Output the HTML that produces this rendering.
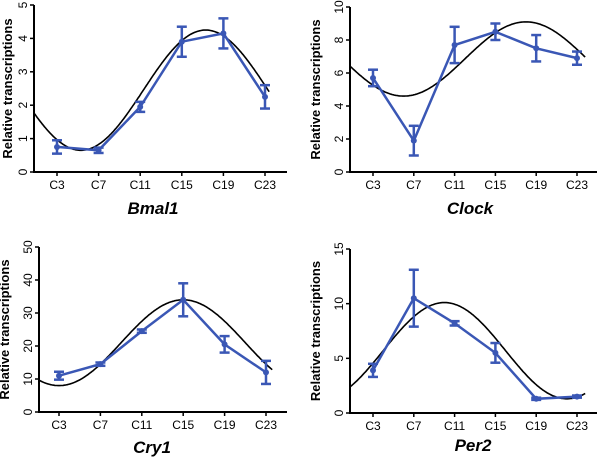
<!DOCTYPE html>
<html><head><meta charset="utf-8">
<style>
html,body{margin:0;padding:0;background:#fff;}
svg{display:block;font-family:"Liberation Sans",Arial,sans-serif;}
</style></head>
<body>
<svg id="fig" width="600" height="457" viewBox="0 0 600 457" xmlns="http://www.w3.org/2000/svg"></svg>
<script>
const categories = ["C3","C7","C11","C15","C19","C23"];
const hours = [3,7,11,15,19,23];
const bmal1Values = [0.75,0.65,1.95,3.9,4.15,2.25];
const bmal1Errors = [0.2,0.08,0.15,0.45,0.45,0.35];
const clockValues = [5.7,1.9,7.7,8.5,7.5,6.9];
const clockErrors = [0.5,0.9,1.1,0.5,0.8,0.4];
const cry1Values = [11,14.5,24.5,34,20.5,12];
const cry1Errors = [1.2,0.5,0.5,5,2.5,3.5];
const per2Values = [3.9,10.5,8.2,5.5,1.3,1.5];
const per2Errors = [0.6,2.6,0.2,0.9,0.1,0.1];
// cosinor fit parameters: mesor, amplitude, acrophase (h)
const bmal1Fit = [2.45,1.8,17.3];
const clockFit = [6.85,2.25,18];
const cry1Fit = [21,13,15];
const per2Fit = [5.7,4.4,10];
const bmal1Ticks = [0,1,2,3,4,5];
const clockTicks = [0,2,4,6,8,10];
const cry1Ticks = [0,10,20,30,40,50];
const per2Ticks = [0,5,10,15];

const NS="http://www.w3.org/2000/svg";
const svg=document.getElementById('fig');
function mk(tag,attrs,parent){const e=document.createElementNS(NS,tag);for(const k in attrs)e.setAttribute(k,attrs[k]);(parent||svg).appendChild(e);return e;}
const BLUE="#3a57b5";

function panel(cfg){
  const g=mk('g',{});
  
  
  const {ax,top,bot,right,c3,sp,ymax}=cfg;
  const X=h=>c3+(h-3)*sp/4;
  const Y=v=>bot-(v/ymax)*(bot-top);
  const yAxis=mk('line',{x1:ax,y1:top,x2:ax,y2:bot,stroke:'#000','stroke-width':2},g);
  
  
  const xAxis=mk('line',{x1:ax-1,y1:bot,x2:right,y2:bot,stroke:'#000','stroke-width':2},g);
  
  
  cfg.ticks.forEach(t=>{
    const y=Y(t);
    mk('line',{x1:ax-4,y1:y,x2:ax,y2:y,stroke:'#000','stroke-width':1.5},g);
    const tx=mk('text',{x:0,y:0,transform:`translate(${ax-7},${y}) rotate(-90)`,'text-anchor':'middle','font-size':12,fill:'#000'},g);
    tx.textContent=t;
    
    
  });
  categories.forEach((c,i)=>{
    const x=X(hours[i]);
    mk('line',{x1:x,y1:bot,x2:x,y2:bot+4,stroke:'#000','stroke-width':1.5},g);
    const tx=mk('text',{x:x,y:bot+17,'text-anchor':'middle','font-size':12,fill:'#000'},g);
    tx.textContent=c;
    
    
  });
  const yt=mk('text',{x:0,y:0,transform:`translate(${cfg.ytx},${(top+bot)/2}) rotate(-90)`,'text-anchor':'middle','font-size':13,'font-weight':'bold',fill:'#000'},g);
  yt.textContent='Relative transcriptions';
  
  
  const tt=mk('text',{x:cfg.tx,y:cfg.ty,'text-anchor':'middle','font-size':17,'font-weight':'bold','font-style':'italic',fill:'#000'},g);
  tt.textContent=cfg.title;
  
  
  const [m,a,p]=cfg.fit;
  let d='';
  for(let h=cfg.h0;h<=cfg.h1+1e-6;h+=0.1){
    const v=m+a*Math.cos(2*Math.PI*(h-p)/24);
    d+=(d?'L':'M')+X(h).toFixed(1)+','+Y(v).toFixed(1);
  }
  const cv=mk('path',{d:d,fill:'none',stroke:'#000','stroke-width':1.6},g);
  
  
  const pts=cfg.vals.map((v,i)=>X(hours[i]).toFixed(1)+','+Y(v).toFixed(1)).join(' ');
  const pl=mk('polyline',{points:pts,fill:'none',stroke:BLUE,'stroke-width':2.5},g);
  
  
  cfg.vals.forEach((v,i)=>{
    const x=X(hours[i]),e=cfg.errs[i];
    const eg=mk('g',{},g);
    
    
    mk('line',{x1:x,y1:Y(v+e),x2:x,y2:Y(v-e),stroke:BLUE,'stroke-width':2.5},eg);
    mk('line',{x1:x-5,y1:Y(v+e),x2:x+5,y2:Y(v+e),stroke:BLUE,'stroke-width':2.5},eg);
    mk('line',{x1:x-5,y1:Y(v-e),x2:x+5,y2:Y(v-e),stroke:BLUE,'stroke-width':2.5},eg);
    const c=mk('circle',{cx:x,cy:Y(v),r:3,fill:BLUE},g);
    
    
  });
}
panel({name:'bmal1',title:'Bmal1',ax:34,top:5,bot:172,right:287,c3:57,sp:41.6,ymax:5,ticks:bmal1Ticks,vals:bmal1Values,errs:bmal1Errors,fit:bmal1Fit,h0:0.8,h1:23.4,ytx:12,tx:153,ty:214});
panel({name:'clock',title:'Clock',ax:350,top:7,bot:172,right:597,c3:373,sp:40.8,ymax:10,ticks:clockTicks,vals:clockValues,errs:clockErrors,fit:clockFit,h0:0.8,h1:23.8,ytx:320,tx:470,ty:214});
panel({name:'cry1',title:'Cry1',ax:39,top:247,bot:412,right:287,c3:59,sp:41.4,ymax:50,ticks:cry1Ticks,vals:cry1Values,errs:cry1Errors,fit:cry1Fit,h0:1.0,h1:23.6,ytx:9,tx:152,ty:453});
panel({name:'per2',title:'Per2',ax:350,top:249,bot:413,right:597,c3:373,sp:40.8,ymax:15,ticks:per2Ticks,vals:per2Values,errs:per2Errors,fit:per2Fit,h0:0.8,h1:23.8,ytx:320,tx:473,ty:451});
</script>
</body></html>
